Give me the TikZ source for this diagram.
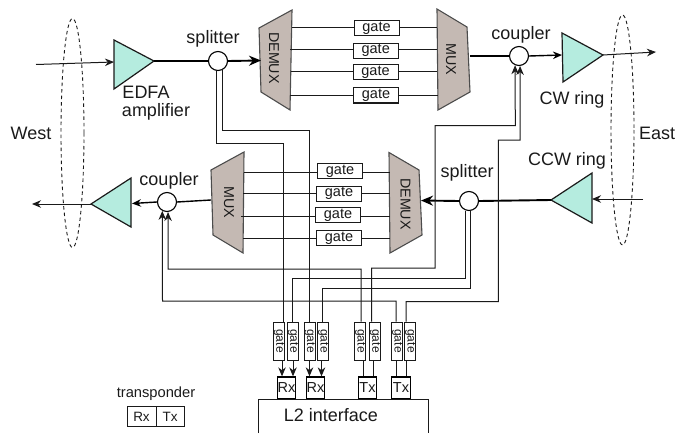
\documentclass[tikz,border=0pt]{standalone}
\usepackage{fontspec}
\setmainfont{Liberation Sans}
\usetikzlibrary{arrows.meta}
\definecolor{amp}{HTML}{B5ECDF}
\definecolor{mx}{HTML}{C4B9B3}
\definecolor{ln}{HTML}{1A1A1A}
\tikzset{
 x=1pt,y=-1pt,
 lbl/.style={font=\fontsize{18}{20}\selectfont,inner sep=0pt,text=ln},
 ampbox/.style={draw=ln,fill=amp,line width=1.2pt,line join=miter},
 mxbox/.style={draw=black!70,fill=mx,line width=1.1pt},
 mxtxt/.style={font=\fontsize{14.3}{16}\selectfont,rotate=-90,inner sep=0pt,text=ln},
 hgate/.style={draw=ln,fill=white,line width=1pt,minimum width=45pt,minimum height=15pt,inner sep=0pt,font=\fontsize{14.5}{16}\selectfont,text=ln},
 vgatebox/.style={draw=ln,fill=white,line width=1pt,minimum width=38pt,minimum height=11pt,inner sep=0pt,rotate=-90,font=\fontsize{12}{14}\selectfont,text=ln},
 trx/.style={draw=black,fill=white,line width=1.3pt,minimum width=18.5pt,minimum height=22pt,inner sep=0pt,font=\fontsize{14.5}{16}\selectfont,text=ln},
 legbox/.style={draw=ln,line width=0.8pt,minimum height=19.5pt,inner sep=0pt,font=\fontsize{13.5}{15}\selectfont,text=ln},
 junc/.style={circle,draw=black,fill=white,line width=1.1pt,minimum size=19pt,inner sep=0pt},
 wire/.style={draw=ln,line width=1pt},
 mid/.style={draw=black,line width=1.4pt},
 fat/.style={draw=black,line width=1.9pt},
 tipS/.style={-{Stealth[length=9pt,width=7.5pt]}},
 tipL/.style={-{Stealth[length=12pt,width=10pt]}},
 ring/.style={draw=ln,dash pattern=on 3.5pt off 3pt,line width=0.9pt},
}
\begin{document}
\begin{tikzpicture}
\useasboundingbox (0,0) rectangle (676,433);
% ring ellipses
\draw[ring] (72.5,133) ellipse [x radius=11.5,y radius=114.5];
\draw[ring] (622.5,130) ellipse [x radius=11.5,y radius=115];
% named free ends
\coordinate (inW) at (36,64.5);
\coordinate (outW) at (32,204);
\coordinate (outE) at (656,52);
\coordinate (inE) at (643,199);
% amplifiers
\draw[ampbox] (114,40) -- (154,61) coordinate (a1a) -- (114,89) -- cycle;
\coordinate (a1i) at (114,62);
\draw[ampbox] (562,33) -- (603,55) coordinate (a2a) -- (563,82) -- cycle;
\coordinate (a2i) at (562,55);
\draw[ampbox] (131,178) -- (91,204) coordinate (a3a) -- (131,227) -- cycle;
\coordinate (a3i) at (132,203.5);
\draw[ampbox] (592,173) -- (551,200) coordinate (a4a) -- (592,223) -- cycle;
\coordinate (a4i) at (592,199);
% mux / demux
\draw[mxbox] (292,10) -- (259,28) -- (261,92) -- (290,110) -- cycle;
\node[mxtxt] (t1) at (274,58) {DEMUX};
\draw[mxbox] (437,9) -- (467,27) -- (470,92) -- (438,110) -- cycle;
\node[mxtxt] (t2) at (451,59) {MUX};
\draw[mxbox] (244,152) -- (211,170) -- (213,235) -- (243,253) -- cycle;
\node[mxtxt] (t3) at (229,202) {MUX};
\draw[mxbox] (389,152.5) -- (419,170) -- (422,235) -- (390,253) -- cycle;
\node[mxtxt] (t4) at (405.5,204) {DEMUX};
\coordinate (d1i) at (261,60.5);
\coordinate (m1o) at (470,56);
\coordinate (d2i) at (421,200.5);
\coordinate (m2o) at (211,200);
% junctions
\node[junc] (s1) at (218,61) {};
\node[junc] (c1) at (519,56) {};
\node[junc] (c2) at (167,202) {};
\node[junc] (s2) at (469,201) {};
% horizontal gates
\node[hgate] (g1) at (376.5,28.5) {gate};
\node[hgate] (g2) at (375.7,50.7) {gate};
\node[hgate] (g3) at (375.5,72.5) {gate};
\node[hgate] (g4) at (376,95.5) {gate};
\node[hgate] (g5) at (340,171) {gate};
\node[hgate] (g6) at (339,193.5) {gate};
\node[hgate] (g7) at (338,215) {gate};
\node[hgate] (g8) at (339,238) {gate};
\foreach \n/\a/\b/\y in {g1/292/437/28,g2/290/437/49.5,g3/291/437/72,g4/290/438/95.5,g5/244/390/172,g6/243/390/193.5,g7/241/390/216,g8/243/390/238}{
  \draw[wire] (\a,\y) -- (\n.west |- 0,\y);
  \draw[wire] (\n.east |- 0,\y) -- (\b,\y);
}
% vertical gates
\foreach \n/\x in {v1/279,v2/293,v3/309.7,v4/323.2,v5/360.2,v6/375,v7/397.2,v8/410.2}{
  \node[vgatebox] (\n) at (\x,341) {gate};
}
% transceivers
\node[trx] (r1) at (286.5,388) {Rx};
\node[trx] (r2) at (315.5,388) {Rx};
\node[trx] (x1) at (367.5,388) {Tx};
\node[trx] (x2) at (401,388) {Tx};
% L2 interface
\draw[wire] (258,433) -- (258,399.5) -- (428,399.5) -- (428,433);
\node[lbl] (l2) at (331,415.5) {L2 interface};
% main path connectors
\draw[wire,tipS] (inW) -- (a1i);
\draw[fat] (a1a) -- (s1.west);
\draw[fat,tipL] (s1.east) -- (d1i);
\draw[mid] (m1o) -- (c1.west);
\draw[mid,tipS] (c1.east) -- (a2i);
\draw[wire,tipS] (a2a) -- (outE);
\draw[wire,tipS] (inE) -- (a4i);
\draw[fat] (a4a) -- (s2.east);
\draw[fat,tipL] (s2.west) -- (d2i);
\draw[mid] (m2o) -- (c2.east);
\draw[mid,tipS] (c2.west) -- (a3i);
\draw[wire,tipS] (a3a) -- (outW);
% drop lines, top splitter
\draw[wire] (s1.-100) -- (s1.-100 |- 0,143) -- (283,143) -- (283,0 |- v1.west);
\draw[wire] (s1.-65) -- (s1.-65 |- 0,130.5) -- (309.5,130.5) -- (309.5,0 |- v3.west);
% drop lines, lower splitter
\draw[wire] (s2.-108) -- (s2.-108 |- 0,278) -- (292.3,278) -- (292.3,0 |- v2.west);
\draw[wire] (s2.-84) -- (s2.-84 |- 0,288) -- (322.7,288) -- (322.7,0 |- v4.west);
% add lines
\draw[wire,tipS] (361,0 |- v5.west) -- (361,269) -- (168,269) -- (c2.-84);
\draw[wire,tipS] (396,0 |- v7.west) -- (396,301) -- (162.5,301) -- (c2.-118);
\draw[wire,tipS] (371.7,0 |- v6.west) -- (371.7,268) -- (435,268) -- (435,125.5) -- (515.3,125.5) -- (c1.-113);
\draw[wire,tipS] (406,0 |- v8.west) -- (406,301.5) -- (498.3,301.5) -- (498.3,140) -- (520,140) -- (c1.-84);
% gates to transceivers
\foreach \a/\x/\b in {v1/282/r1,v2/293/r1,v3/309.5/r2,v4/321.5/r2}{
  \draw[wire,tipS] (\x,0 |- \a.east) -- (\x,0 |- \b.north);
}
\foreach \a/\x/\b in {v5/363/x1,v6/373/x1,v7/396/x2,v8/406/x2}{
  \draw[wire] (\x,0 |- \a.east) -- (\x,0 |- \b.north);
}
% labels
\node[lbl] (n1) at (213,38.5) {splitter};
\node[lbl] (n2) at (146,92) {EDFA};
\node[lbl] (n3) at (156,112) {amplifier};
\node[lbl] (n4) at (31,133) {West};
\node[lbl] (n5) at (169,180.5) {coupler};
\node[lbl] (n6) at (521,34.5) {coupler};
\node[lbl] (n7) at (572,100) {CW ring};
\node[lbl] (n8) at (657,133) {East};
\node[lbl] (n9) at (567,161) {CCW ring};
\node[lbl] (n10) at (467,172.5) {splitter};
% transponder legend
\node[font=\fontsize{14.7}{16}\selectfont,inner sep=0pt,text=ln] (n11) at (156,394) {transponder};
\node[legbox,minimum width=29pt] (b1) at (141.5,416.5) {Rx};
\node[legbox,minimum width=28pt] (b2) at (170,416.5) {Tx};
\end{tikzpicture}
\end{document}
